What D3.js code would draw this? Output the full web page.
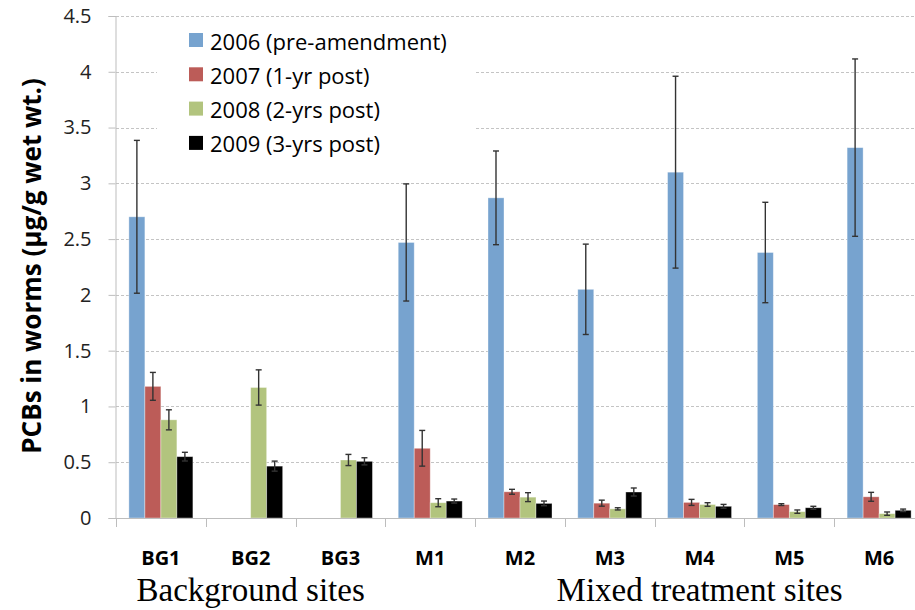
<!DOCTYPE html>
<html>
<head>
<meta charset="utf-8">
<script src="https://cdn.jsdelivr.net/npm/d3@7"></script>
<style>
  body { margin: 0; background: #fff; }
  svg { display: block; }
</style>
</head>
<body>
<svg id="chart" width="915" height="610"></svg>
<script>
const sites = ["BG1", "BG2", "BG3", "M1", "M2", "M3", "M4", "M5", "M6"];
const seriesNames = ["2006 (pre-amendment)", "2007 (1-yr post)", "2008 (2-yrs post)", "2009 (3-yrs post)"];
const colors = ["#77A3CF", "#BC5C58", "#B2C47E", "#000000"];

// means (null = no bar)
const v2006 = [2.70, null, null, 2.47, 2.87, 2.05, 3.10, 2.38, 3.32];
const v2007 = [1.18, null, null, 0.625, 0.235, 0.133, 0.14, 0.12, 0.19];
const v2008 = [0.88, 1.17, 0.52, 0.137, 0.187, 0.082, 0.121, 0.057, 0.039];
const v2009 = [0.55, 0.465, 0.508, 0.152, 0.131, 0.233, 0.105, 0.092, 0.069];

// error bar half widths
const e2006 = [0.685, null, null, 0.525, 0.42, 0.405, 0.86, 0.45, 0.795];
const e2007 = [0.125, null, null, 0.16, 0.022, 0.027, 0.027, 0.008, 0.04];
const e2008 = [0.09, 0.158, 0.05, 0.036, 0.04, 0.01, 0.016, 0.015, 0.015];
const e2009 = [0.039, 0.045, 0.032, 0.018, 0.021, 0.036, 0.017, 0.013, 0.011];

const yTicks = [0, 0.5, 1, 1.5, 2, 2.5, 3, 3.5, 4, 4.5];
const groupLabels = [
  { text: "Background sites", from: "BG1", to: "BG3" },
  { text: "Mixed treatment sites", from: "M2", to: "M6" }
];

const values = [v2006, v2007, v2008, v2009];
const errors = [e2006, e2007, e2008, e2009];

const rows = [];
sites.forEach((s, i) => {
  seriesNames.forEach((n, j) => {
    if (values[j][i] == null) return;
    rows.push({ site: s, series: n, k: j, v: values[j][i], e: errors[j][i] });
  });
});

const svg = d3.select("#chart");
const axisGray = "#BDBDBD";

const x0 = d3.scaleBand().domain(sites).range([116, 924]).paddingInner(0.287).paddingOuter(0.1435);
const x1 = d3.scaleBand().domain(seriesNames).range([0, x0.bandwidth()]);
const y = d3.scaleLinear().domain([0, 4.5]).range([518, 16]);

// gridlines
svg.append("g")
  .selectAll("line")
  .data(yTicks.filter((d) => d > 0))
  .enter()
  .append("line")
  .attr("x1", 116)
  .attr("x2", 924)
  .attr("y1", (d) => Math.round(y(d)) + 0.5)
  .attr("y2", (d) => Math.round(y(d)) + 0.5)
  .style("stroke", "#C4C4C4")
  .style("stroke-width", 1)
  .style("stroke-dasharray", "3,2");

// legend background (covers the gridlines)
svg.append("rect")
  .attr("x", 157)
  .attr("y", 26)
  .attr("width", 318)
  .attr("height", 140)
  .style("fill", "#fff");

// bars
svg.append("g")
  .selectAll("rect")
  .data(rows)
  .enter()
  .append("rect")
  .attr("x", (d) => x0(d.site) + x1(d.series))
  .attr("y", (d) => y(d.v))
  .attr("width", x1.bandwidth())
  .attr("height", (d) => y(0) - y(d.v))
  .style("fill", (d) => colors[d.k])
  .style("stroke", "#fff")
  .style("stroke-opacity", 0.45)
  .style("stroke-width", 0.8);

// error bars
const eb = svg.append("g")
  .selectAll("g")
  .data(rows)
  .enter()
  .append("g")
  .attr("transform", (d) => `translate(${x0(d.site) + x1(d.series) + x1.bandwidth() / 2},0)`)
  .style("stroke", "#333")
  .style("stroke-width", 1.4);
eb.append("line")
  .attr("y1", (d) => y(d.v + d.e))
  .attr("y2", (d) => y(d.v - d.e));
eb.append("line")
  .attr("x1", -3).attr("x2", 3)
  .attr("y1", (d) => y(d.v + d.e))
  .attr("y2", (d) => y(d.v + d.e));
eb.append("line")
  .attr("x1", -3).attr("x2", 3)
  .attr("y1", (d) => y(d.v - d.e))
  .attr("y2", (d) => y(d.v - d.e));

// y axis
const yAxis = svg.append("g")
  .attr("transform", "translate(115.5,0)")
  .call(d3.axisLeft(y).tickValues(yTicks).tickSize(7).tickPadding(17).tickFormat(d3.format("")));
yAxis.select(".domain").style("stroke", axisGray);
yAxis.selectAll(".tick line").style("stroke", axisGray);
yAxis.selectAll(".tick text")
  .style("font-family", "'Open Sans', sans-serif")
  .style("font-size", "20px")
  .style("fill", "#222");

// x axis line + ticks on category boundaries
svg.append("line")
  .attr("x1", 116).attr("x2", 924)
  .attr("y1", 518.5).attr("y2", 518.5)
  .style("stroke", axisGray);
svg.append("g")
  .selectAll("line")
  .data(d3.range(sites.length + 1))
  .enter()
  .append("line")
  .attr("x1", (i) => Math.round(116 + i * x0.step()) + 0.5)
  .attr("x2", (i) => Math.round(116 + i * x0.step()) + 0.5)
  .attr("y1", 518)
  .attr("y2", 527)
  .style("stroke", axisGray);

// category labels
svg.append("g")
  .selectAll("text")
  .data(sites)
  .enter()
  .append("text")
  .attr("x", (d) => x0(d) + x0.bandwidth() / 2)
  .attr("y", 565)
  .attr("text-anchor", "middle")
  .style("font-family", "'Open Sans', sans-serif")
  .style("font-weight", "bold")
  .style("font-size", "20px")
  .style("fill", "#000")
  .text((d) => d);

// group labels
svg.append("g")
  .selectAll("text")
  .data(groupLabels)
  .enter()
  .append("text")
  .attr("x", (d) => (x0(d.from) + x0(d.to) + x0.bandwidth()) / 2)
  .attr("y", 601)
  .attr("text-anchor", "middle")
  .style("font-family", "'Liberation Serif', 'Times New Roman', serif")
  .style("font-size", "33px")
  .style("fill", "#000")
  .text((d) => d.text);

// y title
svg.append("text")
  .attr("transform", "translate(41,266) rotate(-90)")
  .attr("text-anchor", "middle")
  .style("font-family", "'Open Sans', sans-serif")
  .style("font-weight", "bold")
  .style("font-size", "26px")
  .style("fill", "#000")
  .text("PCBs in worms (µg/g wet wt.)");

// legend
const lg = svg.append("g")
  .selectAll("g")
  .data(seriesNames)
  .enter()
  .append("g")
  .attr("transform", (d, i) => `translate(189,${40 + i * 34.3})`);
lg.append("rect")
  .attr("x", 0).attr("y", -7)
  .attr("width", 14).attr("height", 14)
  .style("fill", (d, i) => colors[i]);
lg.append("text")
  .attr("x", 21)
  .attr("y", 9.5)
  .style("font-family", "'Open Sans', sans-serif")
  .style("font-size", "22px")
  .style("fill", "#000")
  .text((d) => d);
</script>
</body>
</html>
